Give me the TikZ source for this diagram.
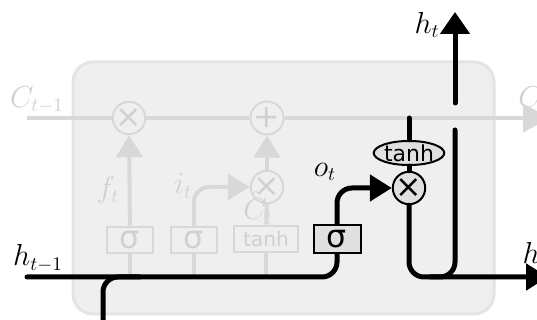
\documentclass[tikz,border=0pt]{standalone}
\usepackage{fontspec}
\usepackage{amsmath}
\usetikzlibrary{arrows.meta}
\usetikzlibrary{shapes.geometric}
\newfontfamily\gatefont{DejaVu Sans}
\definecolor{fadeline}{HTML}{D8D8D8}
\definecolor{fadetext}{HTML}{D0D0D0}
\definecolor{cellfill}{HTML}{EFEFEF}
\definecolor{cellline}{HTML}{E4E4E4}
\definecolor{gatefill}{HTML}{E0E0E0}

\begin{document}
\begin{tikzpicture}[x=0.02cm, y=-0.02cm,
  every node/.style={font=\fontsize{16}{18}\selectfont},
  fadegate/.style={draw=fadeline, line width=0.04cm, minimum width=0.92cm, minimum height=0.54cm, inner sep=0pt, text=fadetext, font=\gatefont\fontsize{18}{20}\selectfont},
  fadeop/.style={draw=fadeline, circle, line width=0.04cm, minimum size=0.56cm, inner sep=0pt, text=fadetext, font=\gatefont\fontsize{18}{20}\selectfont},
  gate/.style={draw=black, fill=gatefill, line width=0.04cm, minimum width=0.94cm, minimum height=0.58cm, inner sep=0pt, font=\gatefont\fontsize{18}{20}\selectfont},
  op/.style={draw=black, fill=gatefill, circle, line width=0.04cm, minimum size=0.55cm, inner sep=0pt, font=\gatefont\fontsize{18}{20}\selectfont},
  squash/.style={draw=black, fill=gatefill, ellipse, line width=0.04cm, minimum width=1.3cm, minimum height=0.44cm, inner sep=0pt, font=\gatefont\fontsize{12.5}{14}\selectfont},
  fadewire/.style={draw=fadeline, line width=0.08cm},
  wire/.style={draw=black, line width=0.1cm, line cap=round},
  bigtip/.style={-{Triangle[length=0.44cm,width=0.52cm]}},
  bendy/.style={rounded corners=0.3cm}]
\useasboundingbox (0,0) rectangle (537,320);
\clip (0,0) rectangle (537,320);
\fill[white] (0,0) rectangle (537,320);
\draw[fill=cellfill, draw=cellline, line width=0.06cm, rounded corners=0.4cm] (73,62) rectangle (494,314);

\node[fadeop] (fx) at (129,118) {×};
\node[fadeop] (add) at (267,118) {+};
\node[fadeop] (ix) at (267,187) {×};
\node[fadegate] (fs) at (130,240) {σ};
\node[fadegate] (is) at (194,240) {σ};
\node[fadegate, minimum width=1.3cm, font=\gatefont\fontsize{11.5}{13}\selectfont] (ct) at (266,239) {tanh};
\node[gate] (os) at (337,239) {σ};
\node[op] (ox) at (409,188) {×};
\node[squash] (th) at (409,153) {tanh};

\node[text=fadetext] (cin) at (37,100) {$C_{t-1}$};
\node[text=fadetext] (cout) at (533,99) {$C_t$};
\node (hin) at (38,258) {$h_{t-1}$};
\node (hout) at (535,255) {$h_t$};
\node (htop) at (427,25) {$h_t$};
\node[text=fadetext] (fl) at (108,190) {$f_t$};
\node[text=fadetext] (il) at (183,186) {$i_t$};
\node[text=fadetext] (cl) at (258,208) {$\tilde{C}_t$};
\node (ol) at (325,172) {$o_t$};

\coordinate (c0) at (27,118);
\coordinate (c1) at (550,118);
\coordinate (h0) at (27,277);
\coordinate (h1) at (548,277);
\coordinate (x0) at (103,330);
\coordinate (x1) at (140,277);
\coordinate (j0) at (430,277);
\coordinate (up0) at (455,130);
\coordinate (up1) at (455,103);
\coordinate (up2) at (455,12);
\coordinate (th0) at (409,118);

\draw[fadewire, -{Triangle[length=0.54cm,width=0.56cm]}] (c0) -- (fx) -- (add) -- (c1);
\draw[fadewire] (fs) -- (fs |- h0);
\draw[fadewire] (is) -- (is |- h0);
\draw[fadewire] (ct) -- (ct |- h0);
\draw[fadewire, bigtip] (fs) -- (fx);
\draw[fadewire, bigtip, bendy] (is) |- (ix);
\draw[fadewire] (ct) -- (ix);
\draw[fadewire, bigtip] (ix) -- (add);

\draw[wire, bendy] (h0) -| (os);
\draw[wire, bendy] (x0) |- (x1);
\draw[wire, bigtip, bendy] (os) |- (ox);
\draw[wire] (th0) -- (th);
\draw[wire] (th) -- (ox);
\draw[wire, bigtip, bendy] (ox) |- (h1);
\draw[wire, bendy] (j0) -| (up0);
\draw[wire, -{Triangle[length=0.44cm,width=0.58cm]}] (up1) -- (up2);
\end{tikzpicture}
\end{document}
